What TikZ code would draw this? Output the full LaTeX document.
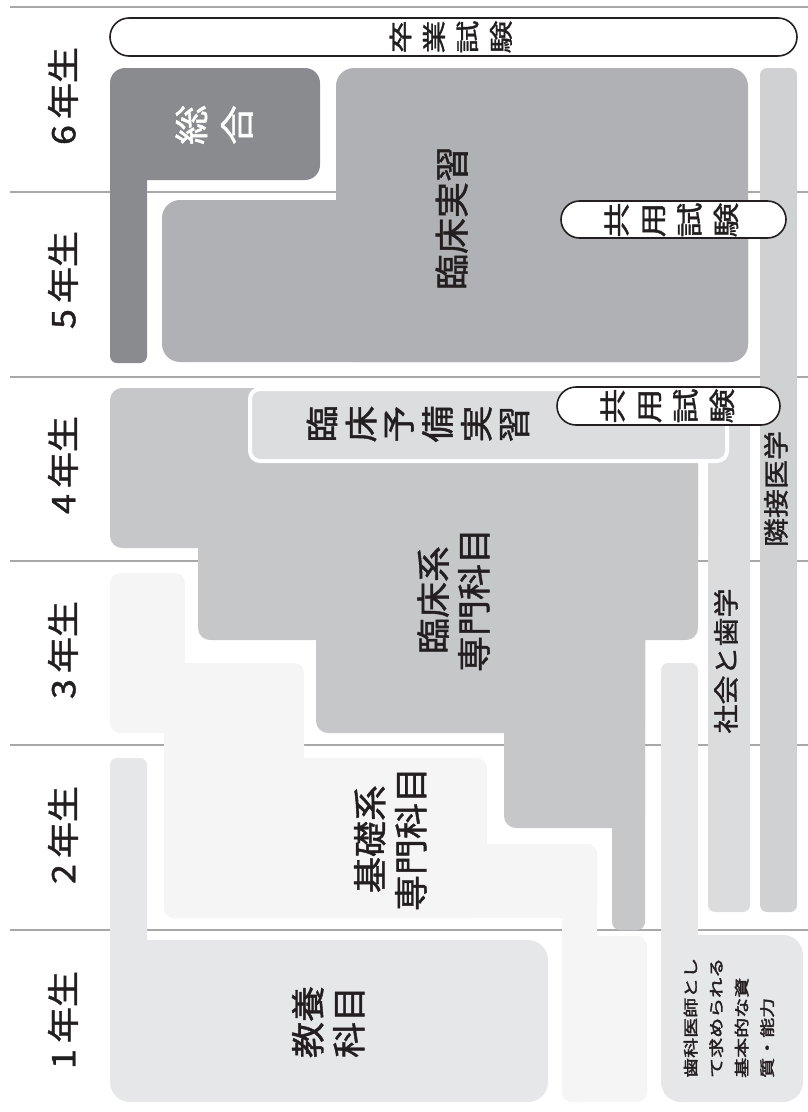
\documentclass[tikz,border=0pt]{standalone}
\usepackage{fontspec}
\setmainfont{Noto Sans CJK JP}[FakeBold=1.2]
\newfontfamily\smallfont{Noto Sans CJK JP}[FakeBold=2.2]
\definecolor{linegray}{HTML}{A8A8A8}
\definecolor{csogo}{HTML}{8A8B8E}
\definecolor{crinsho}{HTML}{B0B1B4}
\definecolor{crinkei}{HTML}{C6C7C9}
\definecolor{cyobi}{HTML}{DCDDDF}
\definecolor{ckiso}{HTML}{F5F5F5}
\definecolor{ckyoyo}{HTML}{E6E7E8}
\definecolor{cshakai}{HTML}{DBDCDE}
\definecolor{crinsetsu}{HTML}{D0D1D3}
\definecolor{ctext}{HTML}{231F20}
\newcommand{\sqtext}[5]{\scalebox{1}[#1]{\fontsize{#2}{#3}\selectfont\begin{tabular}{@{}#4@{}}#5\end{tabular}}}
\tikzset{
  hline/.style={draw=linegray, line width=1.2pt},
  pillbox/.style={draw=ctext, fill=white, line width=1.6pt},
  lbl/.style={rotate=90, inner sep=0pt, text=ctext},
}
\begin{document}
\begin{tikzpicture}[x=1pt,y=-1pt]
\useasboundingbox (0,0) rectangle (808,1112);
% year band lines
\foreach \yy in {7,192,377,561,745,930} \draw[hline] (10,\yy) -- (808,\yy);
% 総合
\fill[csogo, rounded corners=15pt] (110,68) rectangle (320,180);
\fill[csogo, rounded corners=7pt] (110,100) rectangle (147,363);
% 臨床実習
\fill[crinsho, rounded corners=18pt] (336,68) rectangle (748,362);
\fill[crinsho, rounded corners=18pt] (162,200) rectangle (748,362);
% 臨床系専門科目
\fill[crinkei, rounded corners=12pt] (110,388) rectangle (698,548);
\fill[crinkei, rounded corners=12pt] (198,400) rectangle (698,640);
\fill[crinkei, rounded corners=12pt] (316,400) rectangle (645,733);
\fill[crinkei, rounded corners=12pt] (504,400) rectangle (645,828);
\fill[crinkei, rounded corners=8pt] (612,400) rectangle (645,930);
% 基礎系専門科目
\fill[ckiso, rounded corners=10pt] (110,573) rectangle (185,733);
\fill[ckiso, rounded corners=10pt] (164,663) rectangle (304,918);
\fill[ckiso, rounded corners=10pt] (164,758) rectangle (487,918);
\fill[ckiso, rounded corners=10pt] (164,844) rectangle (597,918);
\fill[ckiso, rounded corners=10pt] (562,844) rectangle (597,1102);
\fill[ckiso, rounded corners=10pt] (562,936) rectangle (647,1102);
% 教養科目
\fill[ckyoyo, rounded corners=7pt] (110,758) rectangle (147,1060);
\fill[ckyoyo, rounded corners=20pt] (110,940) rectangle (548,1102);
% 歯科医師として…
\fill[ckyoyo, rounded corners=7pt] (661,663) rectangle (698,1000);
\fill[ckyoyo, rounded corners=20pt] (661,935) rectangle (803,1102);
% 社会と歯学, 隣接医学
\fill[cshakai, rounded corners=7pt] (708,390) rectangle (750,912);
\fill[crinsetsu, rounded corners=7pt] (760,68) rectangle (797,912);
% 臨床予備実習
\draw[white, line width=4pt, fill=cyobi, rounded corners=10pt] (250,389) rectangle (727,461);
% pills
\draw[pillbox, rounded corners=19pt] (110,18) rectangle (797,56);
\draw[pillbox, rounded corners=18.5pt] (561,201) rectangle (786,238);
\draw[pillbox, rounded corners=19pt] (557,387) rectangle (780,425);
% year labels
\node[lbl] (y6) at (67,96) {\sqtext{0.9}{36}{40}{c}{6\,年生}};
\node[lbl] (y5) at (67,280) {\sqtext{0.9}{36}{40}{c}{5\,年生}};
\node[lbl] (y4) at (67,465) {\sqtext{0.9}{36}{40}{c}{4\,年生}};
\node[lbl] (y3) at (67,650) {\sqtext{0.9}{36}{40}{c}{3\,年生}};
\node[lbl] (y2) at (67,835) {\sqtext{0.9}{36}{40}{c}{2\,年生}};
\node[lbl] (y1) at (67,1020) {\sqtext{0.9}{36}{40}{c}{1\,年生}};
% texts
\node[lbl] (sotsu) at (453,37) {\sqtext{0.72}{33}{46.5}{c}{卒\\業\\試\\験}};
\node[lbl, text=white] (sogo) at (218,125) {\sqtext{0.86}{40}{53}{c}{総\\合}};
\node[lbl] (rinsho) at (456,218) {\sqtext{0.97}{36}{40}{c}{臨床実習}};
\node[lbl] (kyoyo5) at (674,220) {\sqtext{0.76}{35}{48}{c}{共\\用\\試\\験}};
\node[lbl] (kyoyo4) at (670,406) {\sqtext{0.76}{35}{48}{c}{共\\用\\試\\験}};
\node[lbl] (yobi) at (422,424) {\sqtext{0.9}{37}{41}{c}{臨\\床\\予\\備\\実\\習}};
\node[lbl] (rinkei) at (458,600) {\sqtext{0.95}{36}{42}{c}{臨床系\\専門科目}};
\node[lbl] (kiso) at (395,839) {\sqtext{0.95}{36}{43}{c}{基礎系\\専門科目}};
\node[lbl] (kyoyokamoku) at (333,1022) {\sqtext{0.95}{36}{43}{c}{教養\\科目}};
\node[lbl] (rinsetsu) at (779,489) {\sqtext{0.88}{29}{32}{c}{隣接医学}};
\node[lbl] (shakai) at (729,661) {\sqtext{0.88}{29}{32}{c}{社会と歯学}};
\node[lbl, anchor=west] (shishi) at (729.5,1078) {\smallfont\sqtext{0.75}{20}{34}{l}{歯科医師とし\\て求められる\\基本的な資\\質・能力}};
\end{tikzpicture}
\end{document}
